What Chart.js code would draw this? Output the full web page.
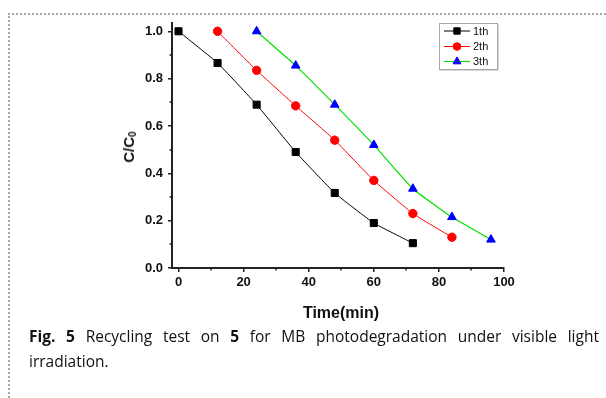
<!DOCTYPE html>
<html><head><meta charset="utf-8">
<script src="https://cdn.jsdelivr.net/npm/chart.js@4/dist/chart.umd.min.js"></script>
<style>
html,body{margin:0;padding:0;background:#fff;width:606px;height:398px;overflow:hidden;position:relative}
#c{position:absolute;left:0;top:0;width:606px;height:398px}
#topline{position:absolute;left:8px;top:13px;width:598px;height:0;border-top:2px dotted #a8a8a8}
#leftline{position:absolute;left:8px;top:13px;width:0;height:385px;border-left:2px dotted #a8a8a8}
#ytitle{position:absolute;left:129px;top:147px;transform:translate(-50%,-50%) rotate(-90deg);font:bold 15px "Liberation Sans",Arial,sans-serif;white-space:nowrap;color:#111}
#ytitle sub{font-size:10px;vertical-align:-2px}
#xtitle{position:absolute;left:341px;top:313px;transform:translate(-50%,-50%);font:bold 16px "Liberation Sans",Arial,sans-serif;white-space:nowrap;color:#111}
.cap{position:absolute;left:29px;width:570px;font-family:"Open Sans",sans-serif;font-size:15.5px;line-height:25.4px;color:#111;white-space:nowrap}
#cap1{top:323.6px;text-align:justify;text-align-last:justify;white-space:normal}
#cap2{top:349px}
</style>
</head>
<body>
<div id="topline"></div>
<div id="leftline"></div>
<canvas id="c" width="606" height="398"></canvas>
<div id="ytitle">C/C<sub>0</sub></div>
<div id="xtitle">Time(min)</div>
<div class="cap" id="cap1"><b>Fig. 5</b> Recycling test on <b>5</b> for MB photodegradation under visible light</div>
<div class="cap" id="cap2">irradiation.</div>
<script>
const seriesLabels = ['1th', '2th', '3th'];
const time1 = [0, 12, 24, 36, 48, 60, 72];
const time2 = [12, 24, 36, 48, 60, 72, 84];
const time3 = [24, 36, 48, 60, 72, 84, 96];
const ratio1 = [1.0, 0.866, 0.69, 0.49, 0.317, 0.19, 0.105];
const ratio2 = [1.0, 0.835, 0.685, 0.54, 0.37, 0.23, 0.13];
const ratio3 = [1.0, 0.855, 0.69, 0.52, 0.335, 0.215, 0.12];
const xTicks = [0, 20, 40, 60, 80, 100];
const yTicks = [0, 0.2, 0.4, 0.6, 0.8, 1.0];

const pts = (xs, ys) => xs.map((x, i) => ({x: x, y: ys[i]}));

const minorTicks = {
  id: 'minorTicks',
  afterDraw(chart) {
    const ctx = chart.ctx;
    const xs = chart.scales.x, ys = chart.scales.y;
    ctx.save();
    ctx.strokeStyle = '#222';
    ctx.lineWidth = 1.5;
    ctx.beginPath();
    for (let i = 0; i < xTicks.length - 1; i++) {
      const px = Math.round(xs.getPixelForValue((xTicks[i] + xTicks[i + 1]) / 2));
      ctx.moveTo(px, ys.bottom); ctx.lineTo(px, ys.bottom + 2.5);
    }
    for (let i = 0; i < yTicks.length - 1; i++) {
      const py = Math.round(ys.getPixelForValue((yTicks[i] + yTicks[i + 1]) / 2));
      ctx.moveTo(xs.left, py); ctx.lineTo(xs.left - 2.5, py);
    }
    ctx.stroke();
    ctx.restore();
  }
};

const boxLegend = {
  id: 'boxLegend',
  afterDatasetsDraw(chart) {
    const ctx = chart.ctx;
    const bx = 439.5, by = 23.5, bw = 58, bh = 46;
    ctx.save();
    ctx.fillStyle = '#fff';
    ctx.fillRect(bx, by, bw, bh);
    ctx.strokeStyle = '#d8d8d8';
    ctx.lineWidth = 1;
    ctx.beginPath();
    ctx.moveTo(bx + 1, by + bh + 1); ctx.lineTo(bx + bw + 1, by + bh + 1); ctx.lineTo(bx + bw + 1, by + 1);
    ctx.stroke();
    ctx.strokeStyle = '#a8a8a8';
    ctx.strokeRect(bx, by, bw, bh);
    const rows = [31, 46.5, 61.5];
    const radii = [4.5, 3.8, 4.6];
    chart.data.datasets.forEach((ds, i) => {
      const y = rows[i];
      ctx.strokeStyle = ds.borderColor;
      ctx.lineWidth = 1;
      ctx.beginPath();
      ctx.moveTo(444, y); ctx.lineTo(470, y);
      ctx.stroke();
      ctx.fillStyle = ds.pointBackgroundColor;
      ctx.strokeStyle = ds.pointBorderColor;
      Chart.helpers.drawPoint(ctx, {pointStyle: ds.pointStyle, radius: radii[i], rotation: 0, borderWidth: 1}, 457, y);
      ctx.fillStyle = '#111';
      ctx.font = '11px "Liberation Sans", Arial, sans-serif';
      ctx.textBaseline = 'middle';
      ctx.textAlign = 'left';
      ctx.fillText(ds.label, 473, y + 0.5);
    });
    ctx.restore();
  }
};

const tickFont = {family: '"Liberation Sans", Arial, sans-serif', size: 13, weight: 'bold'};

new Chart(document.getElementById('c'), {
  type: 'line',
  data: {
    datasets: [
      {label: seriesLabels[0], data: pts(time1, ratio1), borderColor: '#000000', borderWidth: 1,
       pointStyle: 'rect', pointRadius: 5, pointBackgroundColor: '#000000', pointBorderColor: '#000000', pointBorderWidth: 1, tension: 0.12},
      {label: seriesLabels[1], data: pts(time2, ratio2), borderColor: '#ff0000', borderWidth: 1,
       pointStyle: 'circle', pointRadius: 4.2, pointBackgroundColor: '#ff0000', pointBorderColor: '#ff0000', pointBorderWidth: 1, tension: 0.12},
      {label: seriesLabels[2], data: pts(time3, ratio3), borderColor: '#00e000', borderWidth: 1.2,
       pointStyle: 'triangle', pointRadius: 5, pointBackgroundColor: '#0000ff', pointBorderColor: '#0000ff', pointBorderWidth: 1, tension: 0.12}
    ]
  },
  options: {
    responsive: false,
    animation: false,
    devicePixelRatio: 1,
    layout: {padding: {left: 0, top: 23, right: 102, bottom: 0}},
    plugins: {legend: {display: false}, tooltip: {enabled: false}},
    scales: {
      x: {
        type: 'linear', min: -2, max: 100,
        afterBuildTicks: s => { s.ticks = xTicks.map(v => ({value: v})); },
        afterFit: s => { s.height = 130; },
        grid: {display: true, drawOnChartArea: false, drawTicks: true, tickLength: 4, lineWidth: 1.5, color: '#222'},
        border: {display: true, width: 2, color: '#222'},
        ticks: {font: tickFont, color: '#111', padding: 3, maxRotation: 0, callback: v => String(v)}
      },
      y: {
        type: 'linear', min: 0, max: 1.035,
        afterBuildTicks: s => { s.ticks = yTicks.map(v => ({value: v})); },
        afterFit: s => { s.width = 172; },
        grid: {display: true, drawOnChartArea: false, drawTicks: true, tickLength: 4, lineWidth: 1.5, color: '#222'},
        border: {display: true, width: 2, color: '#222'},
        ticks: {font: tickFont, color: '#111', padding: 5, callback: v => Number(v).toFixed(1)}
      }
    }
  },
  plugins: [minorTicks, boxLegend]
});
</script>
</body></html>
